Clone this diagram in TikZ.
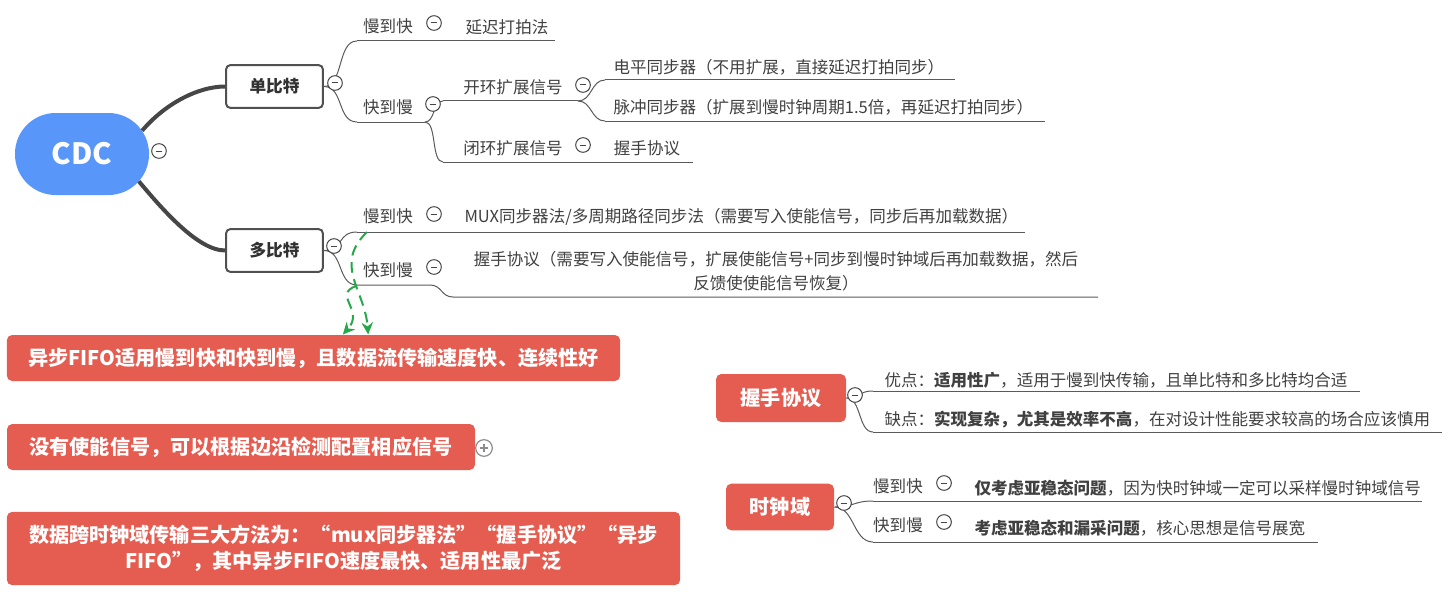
\documentclass[tikz,border=0pt]{standalone}
\usepackage{fontspec}
\setmainfont{Noto Sans CJK SC}
\usetikzlibrary{arrows.meta}

\tikzset{every picture/.style={line width=0.75pt}}
\tikzset{
  lbl/.style={text={rgb, 255:red, 64; green, 64; blue, 64 }, font=\fontsize{12.4}{18}\selectfont, inner sep=0.75pt},
  branch/.style={color={rgb, 255:red, 90; green, 90; blue, 90 }, line width=0.75},
  trunk/.style={color={rgb, 255:red, 70; green, 70; blue, 70 }, line width=3},
  rootbox/.style={fill={rgb, 255:red, 88; green, 150; blue, 250 }, rounded corners=30.5, minimum width=100.5, minimum height=61.5, text=white, font=\fontsize{22}{26}\selectfont\bfseries},
  topicbox/.style={draw={rgb, 255:red, 80; green, 80; blue, 80 }, fill=white, line width=1.5, rounded corners=3, minimum width=72.5, minimum height=32, text={rgb, 255:red, 50; green, 50; blue, 50 }, font=\fontsize{12.5}{15}\selectfont\bfseries},
  redbox/.style={fill={rgb, 255:red, 229; green, 92; blue, 80 }, rounded corners=4, text=white, font=\fontsize{15.1}{19.5}\selectfont\bfseries, align=center},
  fold/.style={circle, draw={rgb, 255:red, 70; green, 70; blue, 70 }, fill=white, minimum size=11, inner sep=0, line width=0.75,
    path picture={\draw[line width=0.75pt] ([xshift=-2.6pt]path picture bounding box.center) -- ([xshift=2.6pt]path picture bounding box.center);}},
  unfold/.style={circle, draw={rgb, 255:red, 140; green, 140; blue, 140 }, fill=white, minimum size=12.5, inner sep=0, line width=0.9,
    path picture={\draw[line width=0.9pt, color={rgb, 255:red, 140; green, 140; blue, 140 }] ([xshift=-3.2pt]path picture bounding box.center) -- ([xshift=3.2pt]path picture bounding box.center) ([yshift=-3.2pt]path picture bounding box.center) -- ([yshift=3.2pt]path picture bounding box.center);}},
  rel/.style={color={rgb, 255:red, 36; green, 168; blue, 72 }, line width=1.5, dash pattern=on 8pt off 5pt, -{Stealth[length=9pt,width=8.5pt]}}
}

\begin{document}
\begin{tikzpicture}[x=0.75pt,y=0.75pt,yscale=-1,xscale=1]
\useasboundingbox (0,0) rectangle (1456,610);

%Shape: Rounded Rect
\node[rootbox] (root) at (82,154) {CDC};
\node[topicbox] (one) at (274.5,86.5) {单比特};
\node[topicbox] (multi) at (274.5,250.5) {多比特};

%Curve Lines
\draw[trunk] ([xshift=-5.5pt,yshift=-17.5pt]root.east) .. controls +(22,-26) and +(-28,0) .. (one.west);
\draw[trunk] ([xshift=-8pt,yshift=20.5pt]root.east) .. controls +(22,26) and +(-28,0) .. (multi.west);

% anchor points of the branch lines
\coordinate (s1a) at (357,41);
\coordinate (s1b) at (555,41);
\coordinate (s2a) at (357,122);
\coordinate (s2b) at (425,122);
\coordinate (o1a) at (443,101);
\coordinate (o1b) at (578,101);
\coordinate (c1a) at (443,162);
\coordinate (c1b) at (693,162);
\coordinate (e1a) at (605,80);
\coordinate (e1b) at (955,80);
\coordinate (p1a) at (605,121);
\coordinate (p1b) at (1045,121);
\coordinate (m1a) at (357,232);
\coordinate (m1b) at (1025,232);
\coordinate (m2a) at (357,285);
\coordinate (m2b) at (430,285);
\coordinate (m2c) at (453,297);
\coordinate (m2d) at (1098,297);

%Straight Lines
\draw[branch] (s1a) -- (s1b);
\draw[branch] (s2a) -- (s2b);
\draw[branch] (o1a) -- (o1b);
\draw[branch] (c1a) -- (c1b);
\draw[branch] (e1a) -- (e1b);
\draw[branch] (p1a) -- (p1b);
\draw[branch] (m1a) -- (m1b);
\draw[branch] (m2a) -- (m2b) .. controls +(12,0) and +(-12,0) .. (m2c) -- (m2d);

%Curve Lines
\draw[branch] (one.east) .. controls +(20,0) and +(-20,0) .. (s1a);
\draw[branch] (one.east) .. controls +(20,0) and +(-20,0) .. (s2a);
\draw[branch] (s2b) .. controls +(10,0) and +(-10,0) .. (o1a);
\draw[branch] (s2b) .. controls +(12,0) and +(-12,0) .. (c1a);
\draw[branch] (o1b) .. controls +(14,0) and +(-14,0) .. (e1a);
\draw[branch] (o1b) .. controls +(14,0) and +(-14,0) .. (p1a);
\draw[branch] (multi.east) .. controls +(20,0) and +(-20,0) .. (m1a);
\draw[branch] (multi.east) .. controls +(20,0) and +(-20,0) .. (m2a);

% Text Node
\node[lbl] (sf1) at (388,26) {慢到快};
\node[lbl] (sf1c) at (507,27) {延迟打拍法};
\node[lbl] (fs1) at (388,107) {快到慢};
\node[lbl] (open) at (513,87) {开环扩展信号};
\node[lbl] (close) at (513,148) {闭环扩展信号};
\node[lbl] (hsk1) at (647,148) {握手协议};
\node[lbl, anchor=west] (lvl) at (612,67) {电平同步器（不用扩展，直接延迟打拍同步）};
\node[lbl, anchor=west] (pls) at (612,107) {脉冲同步器（扩展到慢时钟周期1.5倍，再延迟打拍同步）};
\node[lbl] (sf2) at (388,216) {慢到快};
\node[lbl, anchor=west] (mux) at (463,217) {MUX同步器法/多周期路径同步法（需要写入使能信号，同步后再加载数据）};
\node[lbl] (fs2) at (388,270) {快到慢};
\node[lbl, align=center] (hsk2) at (776,271) {握手协议（需要写入使能信号，扩展使能信号+同步到慢时钟域后再加载数据，然后\\反馈使使能信号恢复）};

%Shape: Rounded Rect
\node[redbox, minimum width=460, minimum height=34.5] (fifo) at (313.5,358) {异步FIFO适用慢到快和快到慢，且数据流传输速度快、连续性好};
\node[redbox, minimum width=351, minimum height=34.5] (noen) at (241,447) {没有使能信号，可以根据边沿检测配置相应信号};
\node[redbox, minimum width=505, minimum height=55] (three) at (343.5,548.5) {数据跨时钟域传输三大方法为：“mux同步器法”“握手协议”“异步\\FIFO”，其中异步FIFO速度最快、适用性最广泛};
\node[redbox, minimum width=97.5, minimum height=36] (hs) at (781,398) {握手协议};
\node[redbox, minimum width=81, minimum height=35] (clk) at (780,507) {时钟域};

% relationship arrows
\coordinate (r1) at (367,232);
\coordinate (r2) at (356,286);
\draw[rel] (r1) .. controls (333,265) and (365,290) .. ([xshift=41pt]fifo.north);
\draw[rel] (r2) .. controls (332,295) and (365,310) .. ([xshift=22pt]fifo.north);

% right side branches
\coordinate (u1a) at (873,391);
\coordinate (u1b) at (1360,391);
\coordinate (u2a) at (873,432);
\coordinate (u2b) at (1442,432);
\coordinate (k1a) at (873,501);
\coordinate (k1b) at (1422,501);
\coordinate (k2a) at (873,542);
\coordinate (k2b) at (1318,542);

%Straight Lines
\draw[branch] (u1a) -- (u1b);
\draw[branch] (u2a) -- (u2b);
\draw[branch] (k1a) -- (k1b);
\draw[branch] (k2a) -- (k2b);

%Curve Lines
\draw[branch] (hs.east) .. controls +(15,0) and +(-15,0) .. (u1a);
\draw[branch] (hs.east) .. controls +(15,0) and +(-15,0) .. (u2a);
\draw[branch] (clk.east) .. controls +(20,0) and +(-20,0) .. (k1a);
\draw[branch] (clk.east) .. controls +(20,0) and +(-20,0) .. (k2a);

% Text Node
\node[lbl, anchor=west] (pro) at (883,380) {优点：\textbf{适用性广}，适用于慢到快传输，且单比特和多比特均合适};
\node[lbl, anchor=west] (con) at (883,420) {缺点：\textbf{实现复杂，尤其是效率不高}，在对设计性能要求较高的场合应该慎用};
\node[lbl] (sf3) at (898,486) {慢到快};
\node[lbl, anchor=west] (sf3c) at (973,488) {\textbf{仅考虑亚稳态问题}，因为快时钟域一定可以采样慢时钟域信号};
\node[lbl] (fs3) at (898,525) {快到慢};
\node[lbl, anchor=west] (fs3c) at (973,528) {\textbf{考虑亚稳态和漏采问题}，核心思想是信号展宽};

% fold markers
\node[fold] (f0) at (159,151) {};
\node[fold] (f1) at (335,83) {};
\node[fold] (f2) at (434,23) {};
\node[fold] (f3) at (433,104) {};
\node[fold] (f4) at (583,85) {};
\node[fold] (f5) at (583,145) {};
\node[fold] (f6) at (334,246) {};
\node[fold] (f7) at (434,214) {};
\node[fold] (f8) at (434,267) {};
\node[fold] (f9) at (855,395) {};
\node[fold] (f10) at (844,503) {};
\node[fold] (f11) at (944,483) {};
\node[fold] (f12) at (944,522) {};
\node[unfold] (g1) at (484,448) {};
\end{tikzpicture}
\end{document}
